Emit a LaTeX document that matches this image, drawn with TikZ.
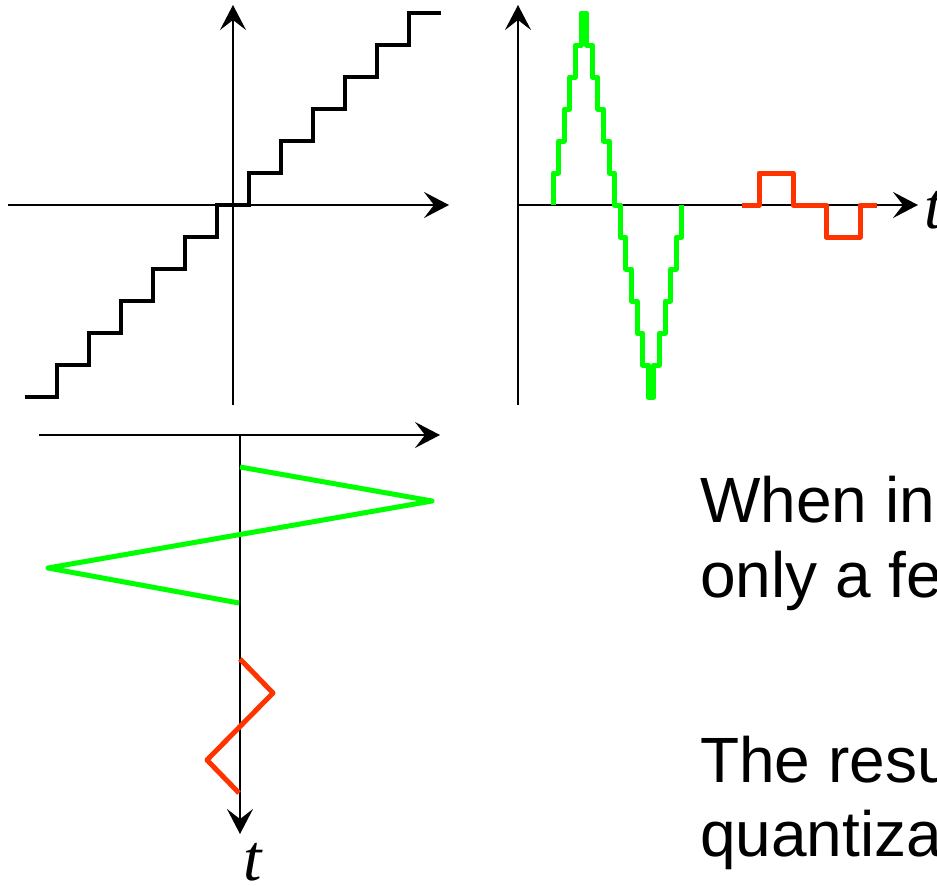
\documentclass[tikz,border=0pt]{standalone}
\usepackage{fontspec}
\setmainfont{Liberation Sans}
\newfontfamily\serifit{Liberation Serif}
\usetikzlibrary{arrows.meta,positioning}
\definecolor{biggreen}{RGB}{0,255,0}
\definecolor{smallred}{RGB}{255,51,0}
\tikzset{
    axis/.style={line width=2pt, -{Stealth[length=25pt, width=26pt, inset=10pt]}},
    stair/.style={line width=4pt},
    big signal/.style={draw=biggreen, line width=5pt, line join=round},
    small signal/.style={draw=smallred, line width=5pt, line join=round},
    tlabel/.style={font=\fontsize{66}{66}\selectfont\serifit\itshape,
                   inner sep=0pt, anchor=base west},
    slide text/.style={font=\fontsize{64}{74}\selectfont,
                       inner sep=0pt, anchor=base west},
}
\newcommand{\signalcanvas}{
    \path[use as bounding box] (0,0) rectangle (937,886);
    \clip (0,0) rectangle (937,886);
}

\begin{document}
\begin{tikzpicture}[x=1pt, y=-1pt]
    \signalcanvas

    % quantizer characteristic
    \coordinate (qleft) at (8,205);
    \coordinate (qright) at (449,205);
    \coordinate (qbottom) at (233,405);
    \coordinate (qtop) at (233,5);
    \draw[axis] (qleft) -- (qright);
    \draw[axis] (qbottom) -- (qtop);
    \draw[stair] (25,397) \foreach \k in {-6,...,6} {
        -| ({233+32*\k-16},{205-32*\k}) } -- (441,13);

    % quantized signals over time
    \coordinate (sorigin) at (518,205);
    \coordinate (sright) at (918,205);
    \coordinate (sbottom) at (518,405);
    \coordinate (stop) at (518,5);
    \draw[axis] (sorigin) -- (sright);
    \draw[axis] (sbottom) -- (stop);
    \node[tlabel] (tright) at (924,228) {t};
    \draw[big signal] (553,205) \foreach \lv [count=\i from 0] in
        {1,2,3,4,5,6,5,4,3,2,1,0,-1,-2,-3,-4,-5,-6,-5,-4,-3,-2,-1,0} {
        -| ({553+5.6*\i},{205-32*\lv}) };
    \draw[small signal] (742,205) -| (759,173) -| (793,205)
        -| (826,237) -| (860,205) -- (877,205);

    % input signals, time running down
    \coordinate (ileft) at (39,435);
    \coordinate (iright) at (440,435);
    \coordinate (iorigin) at (240,435);
    \coordinate (iend) at (240,834);
    \draw[axis] (ileft) -- (iright);
    \draw[axis] (iorigin) -- (iend);
    \node[tlabel] (tbottom) at (243,880) {t};
    \draw[big signal] (240,467) -- (432,501) -- (48,568) -- (239,603);
    \draw[small signal] (240,659) -- (273,693) -- (207,760) -- (239,793);

    \node[slide text] (when) at (700,522) {When in};
    \node[slide text] (few) at ([yshift=-75pt]when.base west) {only a fe};
    \node[slide text] (result) at (700,782) {The resu};
    \node[slide text] (quant) at ([yshift=-74pt]result.base west) {quantiza};
\end{tikzpicture}
\end{document}
